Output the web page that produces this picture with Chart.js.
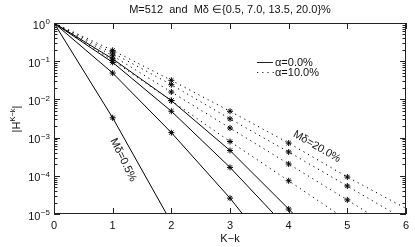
<!DOCTYPE html>
<html>
<head>
<meta charset="utf-8">
<script src="https://cdn.jsdelivr.net/npm/chart.js@4.4.1/dist/chart.umd.min.js"></script>
<style>
    body { margin: 0; background: #fff; }
    canvas { display: block; }
</style>
</head>
<body>
<canvas id="chart" width="415" height="247"></canvas>
<script>
// K-k
const steps = [0, 1, 2, 3, 4, 5, 6];
const xTicks = [0, 1, 2, 3, 4, 5, 6];
const yTicks = [1, 1e-1, 1e-2, 1e-3, 1e-4, 1e-5];

// |H^{K-k}|, alpha = 0.0%  (Md = 0.5, 7.0, 13.5, 20.0 %)
const a0md05  = [1, 3.3e-3, 6e-6,    null,    null,    null,    null];
const a0md70  = [1, 0.049,  1.35e-3, 2.6e-5,  3e-7,    null,    null];
const a0md135 = [1, 0.093,  4.9e-3,  1.66e-4, 3.9e-6,  null,    null];
const a0md200 = [1, 0.115,  9.3e-3,  4.6e-4,  1.35e-5, 3.4e-7,  null];

// |H^{K-k}|, alpha = 10.0%
const a10md05  = [1, 0.105, 9.3e-3,  7.9e-4,  7.4e-5,  6.8e-6,  null];
const a10md70  = [1, 0.139, 0.0156,  1.78e-3, 2.04e-4, 2.34e-5, 2.5e-6];
const a10md135 = [1, 0.164, 0.0243,  3.1e-3,  4.2e-4,  5.4e-5,  6.8e-6];
const a10md200 = [1, 0.192, 0.0316,  4.9e-3,  7.2e-4,  9.3e-5,  1.4e-5];

const FONT = "'Liberation Sans', Arial, sans-serif";

function makeSet(vals, dotted) {
    return {
        data: steps.map((s, i) => ({ x: s, y: vals[i] })),
        borderColor: '#000',
        backgroundColor: '#000',
        borderWidth: 1,
        borderDash: dotted ? [1.2, 4] : [],
        pointStyle: 'star',
        pointRadius: ctx => (ctx.raw && (ctx.raw.x === 0 || ctx.raw.x === 6)) ? 0 : 3,
        pointBorderWidth: 1,
        pointBorderColor: '#000',
        tension: 0
    };
}

const datasets = [
    makeSet(a0md05, false), makeSet(a0md70, false), makeSet(a0md135, false), makeSet(a0md200, false),
    makeSet(a10md05, true), makeSet(a10md70, true), makeSet(a10md135, true), makeSet(a10md200, true)
];

// frame, inward ticks, y labels, titles, legend, curve labels
const extras = {
    id: 'extras',
    afterDatasetsDraw(chart) {
        const { ctx, chartArea: a, scales: { x, y } } = chart;
        ctx.save();
        ctx.strokeStyle = '#222';
        ctx.lineWidth = 1;
        ctx.setLineDash([]);
        ctx.strokeRect(a.left + 0.5, a.top + 0.5, a.right - a.left - 1, a.bottom - a.top - 1);

        ctx.beginPath();
        xTicks.forEach(v => {
            const px = Math.round(x.getPixelForValue(v)) + 0.5;
            ctx.moveTo(px, a.bottom); ctx.lineTo(px, a.bottom - 6);
            ctx.moveTo(px, a.top); ctx.lineTo(px, a.top + 6);
        });
        yTicks.forEach(v => {
            const py = Math.round(y.getPixelForValue(v)) + 0.5;
            ctx.moveTo(a.left, py); ctx.lineTo(a.left + 6, py);
            ctx.moveTo(a.right, py); ctx.lineTo(a.right - 6, py);
            if (v < 1) {
                for (let k = 2; k <= 9; k++) {
                    const pm = Math.round(y.getPixelForValue(v * k)) + 0.5;
                    ctx.moveTo(a.left, pm); ctx.lineTo(a.left + 3.5, pm);
                    ctx.moveTo(a.right, pm); ctx.lineTo(a.right - 3.5, pm);
                }
            }
        });
        ctx.stroke();

        // y tick labels 10^n
        ctx.fillStyle = '#111';
        ctx.textAlign = 'right';
        ctx.textBaseline = 'middle';
        yTicks.forEach(v => {
            const py = y.getPixelForValue(v);
            const e = Math.round(Math.log10(v));
            const et = e === 0 ? '0' : '\u2212' + (-e);
            ctx.font = '8px ' + FONT;
            const ew = ctx.measureText(et).width;
            ctx.fillText(et, a.left - 4, py - 1);
            ctx.font = '11px ' + FONT;
            ctx.fillText('10', a.left - 4 - ew - 0.5, py + 2.5);
        });

        // y axis title |H^{K-k}|
        ctx.save();
        ctx.translate(19.5, 119);
        ctx.rotate(-Math.PI / 2);
        ctx.textAlign = 'left';
        ctx.textBaseline = 'alphabetic';
        ctx.font = '11px ' + FONT;
        const w1 = ctx.measureText('|H').width;
        ctx.font = '7.5px ' + FONT;
        const w2 = ctx.measureText('K\u2212k').width;
        ctx.font = '11px ' + FONT;
        const w3 = ctx.measureText('|').width;
        let cx = -(w1 + w2 + w3) / 2;
        ctx.fillText('|H', cx, 0);
        ctx.font = '7.5px ' + FONT;
        ctx.fillText('K\u2212k', cx + w1, -5);
        ctx.font = '11px ' + FONT;
        ctx.fillText('|', cx + w1 + w2, 0);
        ctx.restore();

        // main title
        ctx.textAlign = 'center';
        ctx.textBaseline = 'middle';
        ctx.font = '11px ' + FONT;
        ctx.fillText('M=512  and  M\u03b4 \u2208{0.5, 7.0, 13.5, 20.0}%', (a.left + a.right) / 2, 10);

        // legend
        ctx.textAlign = 'left';
        ctx.beginPath();
        ctx.moveTo(257, 62.5); ctx.lineTo(273, 62.5);
        ctx.stroke();
        ctx.setLineDash([1.2, 4]);
        ctx.beginPath();
        ctx.moveTo(257, 72.5); ctx.lineTo(274, 72.5);
        ctx.stroke();
        ctx.setLineDash([]);
        ctx.fillText('\u03b1=0.0%', 275, 62.5);
        ctx.fillText('\u03b1=10.0%', 275, 72.5);

        // curve labels
        const lab = (txt, xv, yv, deg) => {
            ctx.save();
            ctx.translate(x.getPixelForValue(xv), y.getPixelForValue(yv));
            ctx.rotate(deg * Math.PI / 180);
            ctx.textAlign = 'center';
            ctx.fillText(txt, 0, 0);
            ctx.restore();
        };
        lab('M\u03b4=0.5%', 1.18, 2.6e-4, 64);
        lab('M\u03b4=20.0%', 4.48, 5.8e-4, 30);
        ctx.restore();
    }
};

new Chart(document.getElementById('chart'), {
    type: 'line',
    data: { datasets: datasets },
    options: {
        responsive: false,
        animation: false,
        layout: { padding: { top: 23, right: 9, bottom: 0, left: 0 } },
        plugins: {
            legend: { display: false },
            tooltip: { enabled: false },
            title: { display: false }
        },
        scales: {
            x: {
                type: 'linear',
                min: 0,
                max: 6,
                afterFit: s => { s.height = 33; },
                grid: { display: false, drawTicks: false },
                border: { display: false },
                ticks: {
                    stepSize: 1,
                    padding: 5,
                    color: '#111',
                    font: { family: FONT, size: 11 }
                },
                title: {
                    display: true,
                    text: 'K\u2212k',
                    color: '#111',
                    padding: { top: 0, bottom: 1.5 },
                    font: { family: FONT, size: 11 }
                }
            },
            y: {
                type: 'logarithmic',
                min: 1e-5,
                max: 1,
                afterFit: s => { s.width = 54; },
                grid: { display: false, drawTicks: false },
                border: { display: false },
                ticks: { display: false }
            }
        }
    },
    plugins: [extras]
});
</script>
</body>
</html>
